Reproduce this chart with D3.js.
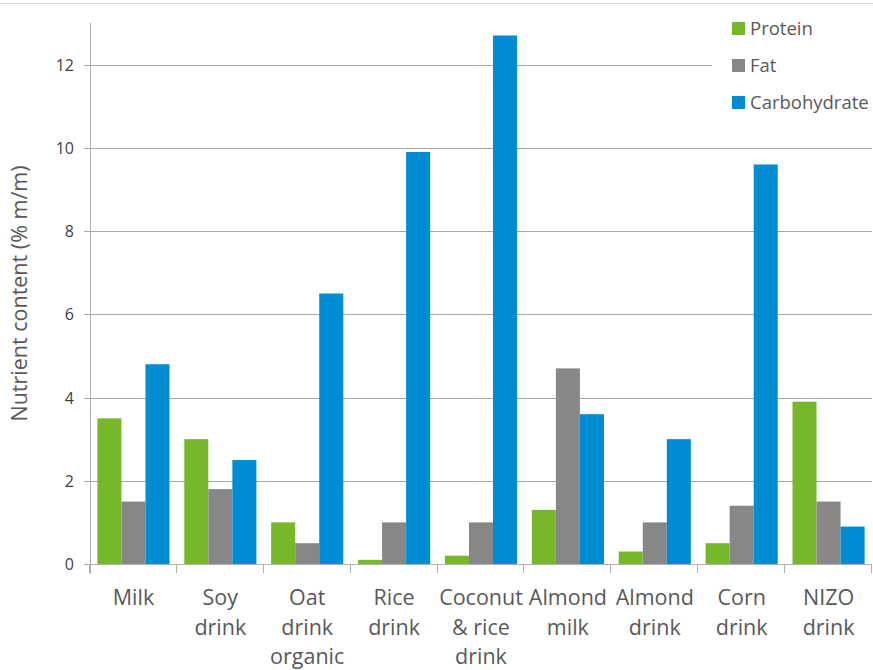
<!DOCTYPE html>
<html>
<head>
<meta charset="utf-8">
<script src="https://cdn.jsdelivr.net/npm/d3@7"></script>
<style>
  body { margin: 0; background: #fff; }
  text { font-family: "Open Sans", "Noto Sans", sans-serif; }
</style>
</head>
<body>
<div id="chart"></div>
<script>
// data
var categories = [["Milk"], ["Soy", "drink"], ["Oat", "drink", "organic"], ["Rice", "drink"],
  ["Coconut", "& rice", "drink"], ["Almond", "milk"], ["Almond", "drink"], ["Corn", "drink"], ["NIZO", "drink"]];
var seriesNames = ["Protein", "Fat", "Carbohydrate"];
var protein = [3.5, 3.0, 1.0, 0.1, 0.2, 1.3, 0.3, 0.5, 3.9];
var fat = [1.5, 1.8, 0.5, 1.0, 1.0, 4.7, 1.0, 1.4, 1.5];
var carbohydrate = [4.8, 2.5, 6.5, 9.9, 12.7, 3.6, 3.0, 9.6, 0.9];
var yTicks = [0, 2, 4, 6, 8, 10, 12];
var colors = ["#76b82a", "#878787", "#008cd2"];

var W = 873, H = 670;
var margin = {top: 23, right: 1, bottom: 106, left: 90};

var svg = d3.select("#chart").append("svg")
  .attr("width", W).attr("height", H);

// faint line along the top
svg.append("line").attr("x1", 0).attr("x2", W).attr("y1", 3.5).attr("y2", 3.5)
  .attr("stroke", "#d9d9d9");

var x = d3.scaleBand().domain(d3.range(categories.length))
  .range([margin.left, W - margin.right]).paddingInner(0.17).paddingOuter(0.085);
var xSub = d3.scaleBand().domain([0, 1, 2]).range([0, x.bandwidth()]);
var y = d3.scaleLinear().domain([0, 13]).range([H - margin.bottom, margin.top]);

// gridlines
svg.append("g").selectAll("line").data(yTicks.filter(function(d){ return d > 0; }))
  .enter().append("line")
  .attr("x1", margin.left - 6).attr("x2", W - margin.right)
  .attr("y1", function(d){ return Math.round(y(d)) + 0.5; })
  .attr("y2", function(d){ return Math.round(y(d)) + 0.5; })
  .attr("stroke", "#a6a6a6").attr("stroke-width", 1);

// y labels
svg.append("g").selectAll("text").data(yTicks).enter().append("text")
  .attr("x", 74).attr("y", function(d){ return y(d) + 6; })
  .attr("text-anchor", "end").attr("font-size", "16px").attr("fill", "#404040")
  .text(function(d){ return d; });

svg.append("text")
  .attr("transform", "translate(27," + ((margin.top + H - margin.bottom) / 2) + ") rotate(-90)")
  .attr("text-anchor", "middle").attr("font-size", "21.5px").attr("fill", "#595959")
  .text("Nutrient content (% m/m)");

// bars
var series = [protein, fat, carbohydrate];
series.forEach(function(vals, s) {
  svg.append("g").selectAll("rect").data(vals).enter().append("rect")
    .attr("x", function(d, i){ return x(i) + xSub(s); })
    .attr("width", xSub.bandwidth())
    .attr("y", function(d){ return y(d); })
    .attr("height", function(d){ return y(0) - y(d); })
    .attr("fill", colors[s]);
});

// axes lines
svg.append("line").attr("x1", margin.left + 0.5).attr("x2", margin.left + 0.5)
  .attr("y1", margin.top).attr("y2", y(0) + 10)
  .attr("stroke", "#b0b0b0");
svg.append("line").attr("x1", margin.left - 6).attr("x2", W - margin.right)
  .attr("y1", Math.round(y(0)) + 0.5).attr("y2", Math.round(y(0)) + 0.5)
  .attr("stroke", "#b0b0b0");
svg.append("g").selectAll("line").data(d3.range(categories.length + 1)).enter().append("line")
  .attr("x1", function(i){ return Math.round(margin.left + i * (W - margin.right - margin.left) / categories.length) - 0.5; })
  .attr("x2", function(i){ return Math.round(margin.left + i * (W - margin.right - margin.left) / categories.length) - 0.5; })
  .attr("y1", y(0)).attr("y2", y(0) + 9)
  .attr("stroke", "#b0b0b0");

// category labels
var lab = svg.append("g").selectAll("text").data(categories).enter().append("text")
  .attr("text-anchor", "middle").attr("font-size", "21.5px").attr("fill", "#595959")
  .attr("x", function(d, i){ return x(i) + x.bandwidth() / 2; })
  .attr("y", 605);
lab.selectAll("tspan").data(function(d){ return d; }).enter().append("tspan")
  .attr("x", function(){ return d3.select(this.parentNode).attr("x"); })
  .attr("dy", function(d, j){ return j === 0 ? 0 : 29.5; })
  .text(function(d){ return d; });

// legend
var leg = svg.append("g");
leg.append("rect").attr("x", 712).attr("y", 10).attr("width", 161).attr("height", 110).attr("fill", "#fff");
seriesNames.forEach(function(n, i) {
  var cy = 28 + i * 37;
  leg.append("rect").attr("x", 732).attr("y", cy - 6).attr("width", 13).attr("height", 13)
    .attr("fill", colors[i]);
  leg.append("text").attr("x", 750).attr("y", cy + 6.5).attr("font-size", "18.5px")
    .attr("fill", "#595959").text(n);
});
</script>
</body>
</html>
